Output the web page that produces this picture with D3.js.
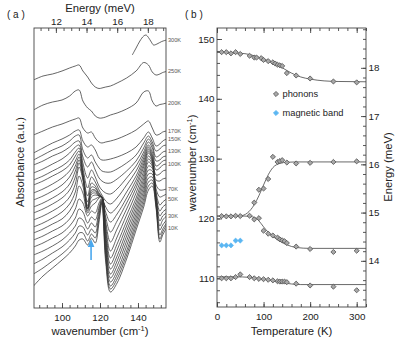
<!DOCTYPE html>
<html><head><meta charset="utf-8">
<script src="https://cdn.jsdelivr.net/npm/d3@7"></script>
<style>body{margin:0;background:#fff}svg{display:block;font-family:"Liberation Sans",Arial,Helvetica,sans-serif}</style>
</head><body><svg id="c" width="399" height="338"></svg>
<script>
// ---------- Panel (a) data: absorbance spectra (a.u., offset) ----------
const wavenumbers = [85,90,95,100,104,107,109,111,113.5,115.5,117.5,119.5,121,123,125.5,129,134,139,143,145.5,147.5,149.5,151.5,153,155];
const spec300w = [137,139,141,143,144.2,145.5,147,148.2,150,152.5,155];
const spec300 = [2.53,2.60,2.67,2.72,2.73,2.705,2.66,2.63,2.64,2.665,2.68];
const spec250 = [2.28,2.32,2.34,2.37,2.40,2.42,2.43,2.37,2.31,2.25,2.21,2.195,2.20,2.21,2.22,2.25,2.30,2.37,2.455,2.43,2.36,2.33,2.34,2.355,2.365];
const spec200 = [1.98,2.03,2.06,2.08,2.12,2.17,2.18,2.07,2.00,1.97,1.92,1.90,1.90,1.91,1.93,1.95,1.99,2.05,2.16,2.17,2.07,2.02,2.035,2.04,2.05];
const spec170 = [1.73,1.77,1.81,1.84,1.87,1.89,1.90,1.80,1.75,1.76,1.70,1.66,1.65,1.66,1.67,1.69,1.73,1.78,1.84,1.87,1.80,1.73,1.74,1.76,1.77];
const spec150 = [1.55,1.60,1.65,1.69,1.73,1.77,1.78,1.67,1.61,1.63,1.58,1.50,1.48,1.48,1.49,1.51,1.55,1.61,1.70,1.76,1.70,1.62,1.64,1.67,1.69];
const spec140 = [1.48,1.53,1.58,1.62,1.67,1.72,1.73,1.58,1.50,1.53,1.46,1.40,1.37,1.36,1.36,1.39,1.45,1.53,1.65,1.72,1.66,1.57,1.59,1.62,1.63];
const spec130 = [1.43,1.47,1.52,1.56,1.61,1.66,1.67,1.51,1.41,1.46,1.38,1.30,1.27,1.25,1.25,1.29,1.37,1.47,1.60,1.69,1.63,1.51,1.53,1.56,1.57];
const spec120 = [1.35,1.39,1.44,1.49,1.55,1.61,1.63,1.45,1.30,1.38,1.31,1.22,1.18,1.15,1.14,1.19,1.30,1.42,1.56,1.66,1.60,1.47,1.48,1.51,1.52];
const spec110 = [1.28,1.32,1.37,1.42,1.48,1.56,1.60,1.40,1.20,1.31,1.26,1.18,1.13,1.07,1.04,1.10,1.23,1.37,1.53,1.63,1.56,1.42,1.44,1.47,1.48];
const spec100 = [1.23,1.27,1.32,1.37,1.43,1.52,1.57,1.36,1.12,1.25,1.22,1.15,1.11,1.01,0.95,1.01,1.16,1.32,1.50,1.61,1.53,1.38,1.40,1.43,1.44];
const spec90  = [1.15,1.19,1.24,1.30,1.37,1.47,1.54,1.34,1.06,1.21,1.20,1.14,1.11,0.96,0.86,0.94,1.10,1.28,1.47,1.59,1.51,1.33,1.34,1.37,1.38];
const spec80  = [1.08,1.12,1.17,1.23,1.31,1.42,1.51,1.33,1.02,1.18,1.18,1.13,1.11,0.91,0.76,0.87,1.05,1.24,1.44,1.57,1.49,1.28,1.27,1.29,1.30];
const spec70  = [1.01,1.05,1.10,1.16,1.24,1.37,1.48,1.31,1.00,1.16,1.17,1.12,1.11,0.86,0.66,0.79,0.99,1.20,1.41,1.55,1.48,1.23,1.18,1.18,1.19];
const spec60  = [0.95,0.99,1.04,1.10,1.18,1.31,1.45,1.30,0.99,1.14,1.15,1.12,1.11,0.82,0.57,0.71,0.93,1.15,1.37,1.52,1.46,1.19,1.11,1.12,1.14];
const spec50  = [0.88,0.92,0.97,1.03,1.11,1.24,1.41,1.28,0.99,1.11,1.13,1.12,1.11,0.78,0.50,0.64,0.87,1.10,1.33,1.49,1.44,1.16,1.03,1.06,1.09];
const spec45  = [0.81,0.85,0.90,0.96,1.04,1.16,1.32,1.22,0.97,1.07,1.09,1.11,1.11,0.74,0.44,0.58,0.82,1.06,1.29,1.46,1.42,1.13,0.97,1.01,1.04];
const spec40  = [0.75,0.79,0.84,0.89,0.97,1.08,1.22,1.15,0.95,1.02,1.05,1.10,1.11,0.70,0.39,0.52,0.77,1.02,1.25,1.42,1.40,1.12,0.92,0.96,0.99];
const spec35  = [0.68,0.72,0.77,0.82,0.89,0.99,1.09,1.05,0.92,0.97,0.95,1.05,1.10,0.66,0.34,0.47,0.72,0.98,1.21,1.38,1.37,1.10,0.87,0.92,0.95];
const spec30  = [0.61,0.65,0.70,0.75,0.82,0.90,0.99,0.96,0.85,0.91,0.88,1.01,1.09,0.62,0.30,0.42,0.67,0.94,1.17,1.34,1.34,1.08,0.82,0.88,0.92];
const spec25  = [0.53,0.57,0.62,0.68,0.75,0.82,0.90,0.88,0.79,0.85,0.81,0.98,1.08,0.58,0.26,0.37,0.62,0.90,1.13,1.30,1.31,1.06,0.78,0.83,0.88];
const spec20  = [0.44,0.49,0.55,0.61,0.68,0.75,0.82,0.81,0.73,0.79,0.75,0.94,1.07,0.54,0.22,0.33,0.57,0.86,1.09,1.26,1.28,1.04,0.73,0.79,0.85];
const spec15  = [0.34,0.40,0.47,0.54,0.61,0.68,0.75,0.75,0.67,0.74,0.70,0.90,1.06,0.50,0.19,0.29,0.53,0.82,1.05,1.22,1.25,1.02,0.69,0.76,0.83];
const spec10  = [0.22,0.32,0.40,0.48,0.55,0.62,0.68,0.69,0.63,0.70,0.65,0.86,1.05,0.46,0.16,0.25,0.49,0.78,1.01,1.18,1.22,1.00,0.66,0.73,0.80];
const specTemps = [250,200,170,150,140,130,120,110,100,90,80,70,60,50,45,40,35,30,25,20,15,10];
const specList = [spec250,spec200,spec170,spec150,spec140,spec130,spec120,spec110,spec100,spec90,spec80,spec70,spec60,spec50,spec45,spec40,spec35,spec30,spec25,spec20,spec15,spec10];
const labeledTemps = [300,250,200,170,150,130,100,70,50,30,10];
const arrowWavenumber = 115.3, arrowFrom = 0.48, arrowTo = 0.69;

// ---------- Panel (b) data ----------
const topT = [10,20,30,40,50,70,80,85,95,100,110,120,125,130,135,140,150,170,200,250,300];
const topW = [147.8,147.8,147.6,147.8,147.5,147.2,146.9,146.9,146.8,146.5,146.3,146.1,145.9,145.7,145.6,145.5,144.3,143.9,143.4,142.9,142.75];
const upT = [80,90,100,110,120,130,135,140,150,170,200,250,300];
const upW = [122.65,124.8,125.0,126.6,130.3,129.45,129.6,129.75,129.35,129.2,129.3,129.45,129.55];
const midT = [10,20,30,40,50,70,80,90,100,110,120,130,135,140,145,150,170,200,250,300];
const midW = [120.4,120.35,120.35,120.45,120.4,120.45,119.85,120.05,117.95,117.45,117.15,116.8,116.5,116.35,116.2,115.9,115.3,114.9,114.4,114.6];
const lowT = [10,20,30,40,50,70,80,90,100,110,120,130,135,140,145,150,170,200,250,300];
const lowW = [110.0,110.0,110.0,110.2,110.65,110.2,110.0,109.9,109.85,109.75,109.65,109.5,109.45,109.45,109.45,109.35,109.1,108.8,108.6,108.0];
const magT = [10,20,30,40,50];
const magW = [115.5,115.5,115.5,116.3,116.3];
const fitTopT = [0,30,60,80,100,120,140,160,180,200,230,260,320];
const fitTopW = [147.75,147.7,147.55,147.2,146.65,146.05,145.2,144.3,143.65,143.3,143.0,142.9,142.85];
const fitUpT = [0,50,65,80,90,100,110,120,135,150,170,320];
const fitUpW = [120.4,120.45,120.9,122.3,123.8,125.6,127.3,128.5,129.2,129.4,129.45,129.45];
const fitMidT = [0,60,80,90,100,110,120,135,150,170,200,320];
const fitMidW = [120.4,120.4,120.2,119.6,118.6,117.7,117.0,116.2,115.6,115.15,115.0,115.0];
const fitLowT = [0,40,70,100,130,160,180,320];
const fitLowW = [110.25,110.25,110.15,109.85,109.4,109.05,108.95,108.95];

const CM2MEV = 0.123984;
const ink = "#333", frameCol = "#444";
const svg = d3.select("#c");

function styleAxis(g, fs){
  g.select(".domain").remove();
  g.selectAll("line").attr("stroke", frameCol).attr("stroke-width", 0.9);
  g.selectAll("text").attr("font-size", fs).attr("fill", "#222").attr("font-family", '"Liberation Sans",Arial,sans-serif');
}
const intFmt = d3.format("d");

// ===== Panel (a) =====
const A = {l:34, r:166, t:28, b:308};
const xa = d3.scaleLinear().domain([85.26,154.74]).range([A.l,A.r]);
const ea = d3.scaleLinear().domain([85.26*CM2MEV,154.74*CM2MEV]).range([A.l,A.r]);
const ya = d3.scaleLinear().domain([0,2.8]).range([A.b,A.t]);

svg.append("defs").append("clipPath").attr("id","clipA").append("rect")
  .attr("x",A.l).attr("y",A.t).attr("width",A.r-A.l).attr("height",A.b-A.t);

const lineA = d3.line().x(d=>xa(d[0])).y(d=>ya(d[1])).curve(d3.curveCatmullRom.alpha(0.5));
const gSpec = svg.append("g").attr("clip-path","url(#clipA)");
gSpec.append("path").datum(spec300w.map((w,i)=>[w,spec300[i]]))
  .attr("d",lineA).attr("fill","none").attr("stroke",ink).attr("stroke-width",0.75);
specList.forEach(s=>{
  gSpec.append("path").datum(wavenumbers.map((w,i)=>[w,s[i]]))
    .attr("d",lineA).attr("fill","none").attr("stroke",ink).attr("stroke-width",0.75);
});

// temperature labels at curve ends
const endVal = t => t===300 ? spec300[spec300.length-1] : specList[specTemps.indexOf(t)][wavenumbers.length-1];
svg.append("g").selectAll("text").data(labeledTemps).join("text")
  .attr("x", A.r+2).attr("y", t=>ya(endVal(t))).attr("dy","0.35em")
  .attr("font-size",5.6).attr("fill","#555").text(t=>t+"K");

// blue arrow
const ax = xa(arrowWavenumber);
svg.append("line").attr("x1",ax).attr("x2",ax).attr("y1",ya(arrowFrom)).attr("y2",ya(arrowTo)+6)
  .attr("stroke","#4aa8ee").attr("stroke-width",1.6);
svg.append("path").attr("d",`M${ax-3.3},${ya(arrowTo)+8}L${ax},${ya(arrowTo)}L${ax+3.3},${ya(arrowTo)+8}Z`).attr("fill","#4aa8ee");

// axes (a)
svg.append("g").attr("transform",`translate(0,${A.b})`)
  .call(d3.axisBottom(xa).tickValues(d3.range(88,155,4)).tickSize(-3).tickFormat("")).call(g=>styleAxis(g,10));
svg.append("g").attr("transform",`translate(0,${A.b})`)
  .call(d3.axisBottom(xa).tickValues([100,120,140]).tickSize(-5).tickPadding(6).tickFormat(intFmt)).call(g=>styleAxis(g,9.8));
svg.append("g").attr("transform",`translate(0,${A.t})`)
  .call(d3.axisTop(ea).tickValues(d3.range(11,19.1,0.5)).tickSize(-3).tickFormat("")).call(g=>styleAxis(g,10));
svg.append("g").attr("transform",`translate(0,${A.t})`)
  .call(d3.axisTop(ea).tickValues([12,14,16,18]).tickSize(-5).tickPadding(3).tickFormat(intFmt)).call(g=>styleAxis(g,9.8));
svg.append("rect").attr("x",A.l).attr("y",A.t).attr("width",A.r-A.l).attr("height",A.b-A.t)
  .attr("fill","none").attr("stroke",frameCol).attr("stroke-width",0.9);

// titles (a)
const t1 = svg.append("text").attr("x",(A.l+A.r)/2).attr("y",335).attr("text-anchor","middle").attr("font-size",11.3).attr("fill","#222");
t1.append("tspan").text("wavenumber (cm");
t1.append("tspan").attr("dy",-4).attr("font-size",7.5).text("-1");
t1.append("tspan").attr("dy",4).text(")");
svg.append("text").attr("x",100).attr("y",12).attr("text-anchor","middle").attr("font-size",11.3).attr("fill","#222").text("Energy (meV)");
svg.append("text").attr("transform","translate(20,162) rotate(-90)").attr("text-anchor","middle").attr("dy","0.35em")
  .attr("font-size",11.3).attr("fill","#222").text("Absorbance (a.u.)");
svg.append("text").attr("x",7).attr("y",18).attr("font-size",10).attr("fill","#222").text("( a )");

// ===== Panel (b) =====
const B = {l:217, r:366, t:28, b:307};
const xb = d3.scaleLinear().domain([0,320]).range([B.l,B.r]);
const yb = d3.scaleLinear().domain([105.2,151.84]).range([B.b,B.t]);
const eb = d3.scaleLinear().domain([105.2*CM2MEV,151.84*CM2MEV]).range([B.b,B.t]);

svg.append("g").attr("transform",`translate(0,${B.b})`)
  .call(d3.axisBottom(xb).tickValues(d3.range(0,321,20)).tickSize(-3).tickFormat("")).call(g=>styleAxis(g,10));
svg.append("g").attr("transform",`translate(0,${B.b})`)
  .call(d3.axisBottom(xb).tickValues([0,100,200,300]).tickSize(-5).tickPadding(6).tickFormat(intFmt)).call(g=>styleAxis(g,9.8));
svg.append("g").attr("transform",`translate(0,${B.t})`)
  .call(d3.axisTop(xb).tickValues(d3.range(0,321,20)).tickSize(-3).tickFormat("")).call(g=>styleAxis(g,10));
svg.append("g").attr("transform",`translate(0,${B.t})`)
  .call(d3.axisTop(xb).tickValues([0,100,200,300]).tickSize(-5).tickFormat("")).call(g=>styleAxis(g,10));
svg.append("g").attr("transform",`translate(${B.l},0)`)
  .call(d3.axisLeft(yb).tickValues(d3.range(106,152,2)).tickSize(-3).tickFormat("")).call(g=>styleAxis(g,10));
svg.append("g").attr("transform",`translate(${B.l},0)`)
  .call(d3.axisLeft(yb).tickValues([110,120,130,140,150]).tickSize(-5).tickPadding(2.5).tickFormat(intFmt)).call(g=>styleAxis(g,9.8));
svg.append("g").attr("transform",`translate(${B.r},0)`)
  .call(d3.axisRight(eb).tickValues(d3.range(13.2,18.81,0.2)).tickSize(-3).tickFormat("")).call(g=>styleAxis(g,10));
svg.append("g").attr("transform",`translate(${B.r},0)`)
  .call(d3.axisRight(eb).tickValues([14,15,16,17,18]).tickSize(-5).tickPadding(2.5).tickFormat(intFmt)).call(g=>styleAxis(g,9.8));

const gB = svg.append("g");
const lineB = d3.line().x(d=>xb(d[0])).y(d=>yb(d[1])).curve(d3.curveMonotoneX);
[[fitTopT,fitTopW],[fitUpT,fitUpW],[fitMidT,fitMidW],[fitLowT,fitLowW]].forEach(([T,W])=>{
  gB.append("path").datum(T.map((t,i)=>[t,W[i]])).attr("d",lineB)
    .attr("fill","none").attr("stroke","#444").attr("stroke-width",0.8);
});
const sym = d3.symbol().type(d3.symbolSquare).size(13);
const phon = [[topT,topW],[upT,upW],[midT,midW],[lowT,lowW]].flatMap(([T,W])=>T.map((t,i)=>[t,W[i]]));
gB.selectAll("path.ph").data(phon).join("path").attr("class","ph").attr("d",sym)
  .attr("transform",d=>`translate(${xb(d[0])},${yb(d[1])}) rotate(45)`)
  .attr("fill","#a8a8a8").attr("stroke","#555").attr("stroke-width",0.8);
gB.selectAll("path.mg").data(magT.map((t,i)=>[t,magW[i]])).join("path").attr("class","mg").attr("d",sym)
  .attr("transform",d=>`translate(${xb(d[0])},${yb(d[1])}) rotate(45)`)
  .attr("fill","#5ab6f2").attr("stroke","#5ab6f2").attr("stroke-width",0.6);

svg.append("rect").attr("x",B.l).attr("y",B.t).attr("width",B.r-B.l).attr("height",B.b-B.t)
  .attr("fill","none").attr("stroke",frameCol).attr("stroke-width",0.9);

// legend
const legend = [["phonons","#a8a8a8","#555"],["magnetic band","#5ab6f2","#5ab6f2"]];
legend.forEach((d,i)=>{
  const y = 94 + i*19;
  svg.append("path").attr("d",sym).attr("transform",`translate(276,${y}) rotate(45)`)
    .attr("fill",d[1]).attr("stroke",d[2]).attr("stroke-width",0.8);
  svg.append("text").attr("x",282.5).attr("y",y).attr("dy","0.35em").attr("font-size",9.3).attr("fill","#222").text(d[0]);
});

// titles (b)
svg.append("text").attr("x",(B.l+B.r)/2).attr("y",335).attr("text-anchor","middle").attr("font-size",11.3).attr("fill","#222").text("Temperature (K)");
const t2 = svg.append("text").attr("transform","translate(192,163) rotate(-90)").attr("text-anchor","middle").attr("dy","0.35em").attr("font-size",11.3).attr("fill","#222");
t2.append("tspan").text("wavenumber (cm");
t2.append("tspan").attr("dy",-4).attr("font-size",7.5).text("-1");
t2.append("tspan").attr("dy",4).text(")");
svg.append("text").attr("transform","translate(388,167) rotate(-90)").attr("text-anchor","middle").attr("dy","0.35em")
  .attr("font-size",11.3).attr("fill","#222").text("Energy (meV)");
svg.append("text").attr("x",185).attr("y",18).attr("font-size",10).attr("fill","#222").text("( b )");
</script></body></html>
